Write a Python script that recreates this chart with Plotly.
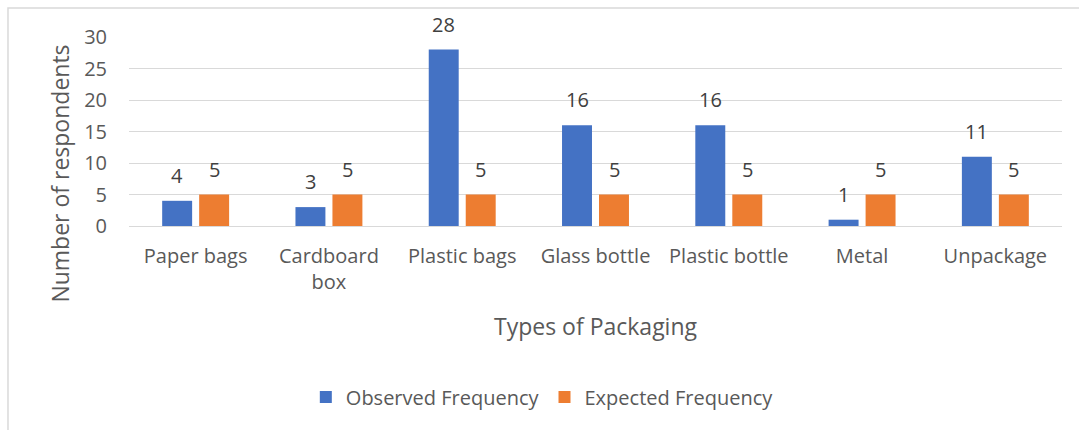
import plotly.graph_objects as go

categories = ["Paper bags", "Cardboard<br>box", "Plastic bags", "Glass bottle",
              "Plastic bottle", "Metal", "Unpackage"]
observed = [4, 3, 28, 16, 16, 1, 11]
expected = [5, 5, 5, 5, 5, 5, 5]
series_names = ["Observed Frequency", "Expected Frequency"]
series_colors = ["#4472C4", "#ED7D31"]
y_ticks = [0, 5, 10, 15, 20, 25, 30]

FONT = "Open Sans"
GRAY = "#595959"
LABEL = "#404040"

fig = go.Figure()
for name, vals, col in zip(series_names, [observed, expected], series_colors):
    fig.add_trace(go.Bar(x=categories, y=vals, name=name, marker=dict(color=col, line=dict(width=0))))

annotations = []
for vals, shift in [(observed, -18.5), (expected, 18.5)]:
    for c, v in zip(categories, vals):
        annotations.append(dict(x=c, y=v, xref="x", yref="y", text=str(v), showarrow=False,
                                yanchor="bottom", yshift=10, xshift=shift,
                                font=dict(size=20, color=LABEL, family=FONT)))

# y-axis title (placed like the original, lower than the plot centre)
annotations.append(dict(text="Number of respondents", xref="paper", yref="paper",
                        x=-0.074, y=0.277, xanchor="center", yanchor="middle",
                        textangle=-90, showarrow=False,
                        font=dict(size=23, color=GRAY, family=FONT)))

fig.update_layout(
    width=1079, height=430,
    margin=dict(l=129, r=17, t=37, b=204),
    paper_bgcolor="white", plot_bgcolor="white",
    barmode="group", bargap=0.445, bargroupgap=0.19,
    font=dict(family=FONT, color=GRAY, size=20),
    showlegend=True,
    legend=dict(orientation="h", x=0.443, xanchor="center", y=-0.905, yanchor="middle",
                font=dict(size=20, color=GRAY, family=FONT), itemwidth=30,
                tracegroupgap=0),
    xaxis=dict(showgrid=False, showline=False, ticks="", tickfont=dict(size=20, color=GRAY),
               ticklabelstandoff=16,
               title=dict(text="Types of Packaging", font=dict(size=23, color=GRAY), standoff=24)),
    yaxis=dict(range=[0, 30], tickvals=y_ticks, showgrid=True, gridcolor="#D9D9D9",
               gridwidth=1, zeroline=True, zerolinecolor="#D9D9D9", zerolinewidth=1,
               showline=False, ticks="", tickfont=dict(size=20, color=GRAY),
               ticklabelstandoff=21),
    annotations=annotations,
    shapes=[dict(type="rect", xref="paper", yref="paper",
                 x0=-0.1297, x1=1.2, y0=-1.5, y1=1.153,
                 line=dict(color="#D9D9D9", width=1.5), fillcolor="rgba(0,0,0,0)", layer="below")],
)

fig.write_html("out.html")
